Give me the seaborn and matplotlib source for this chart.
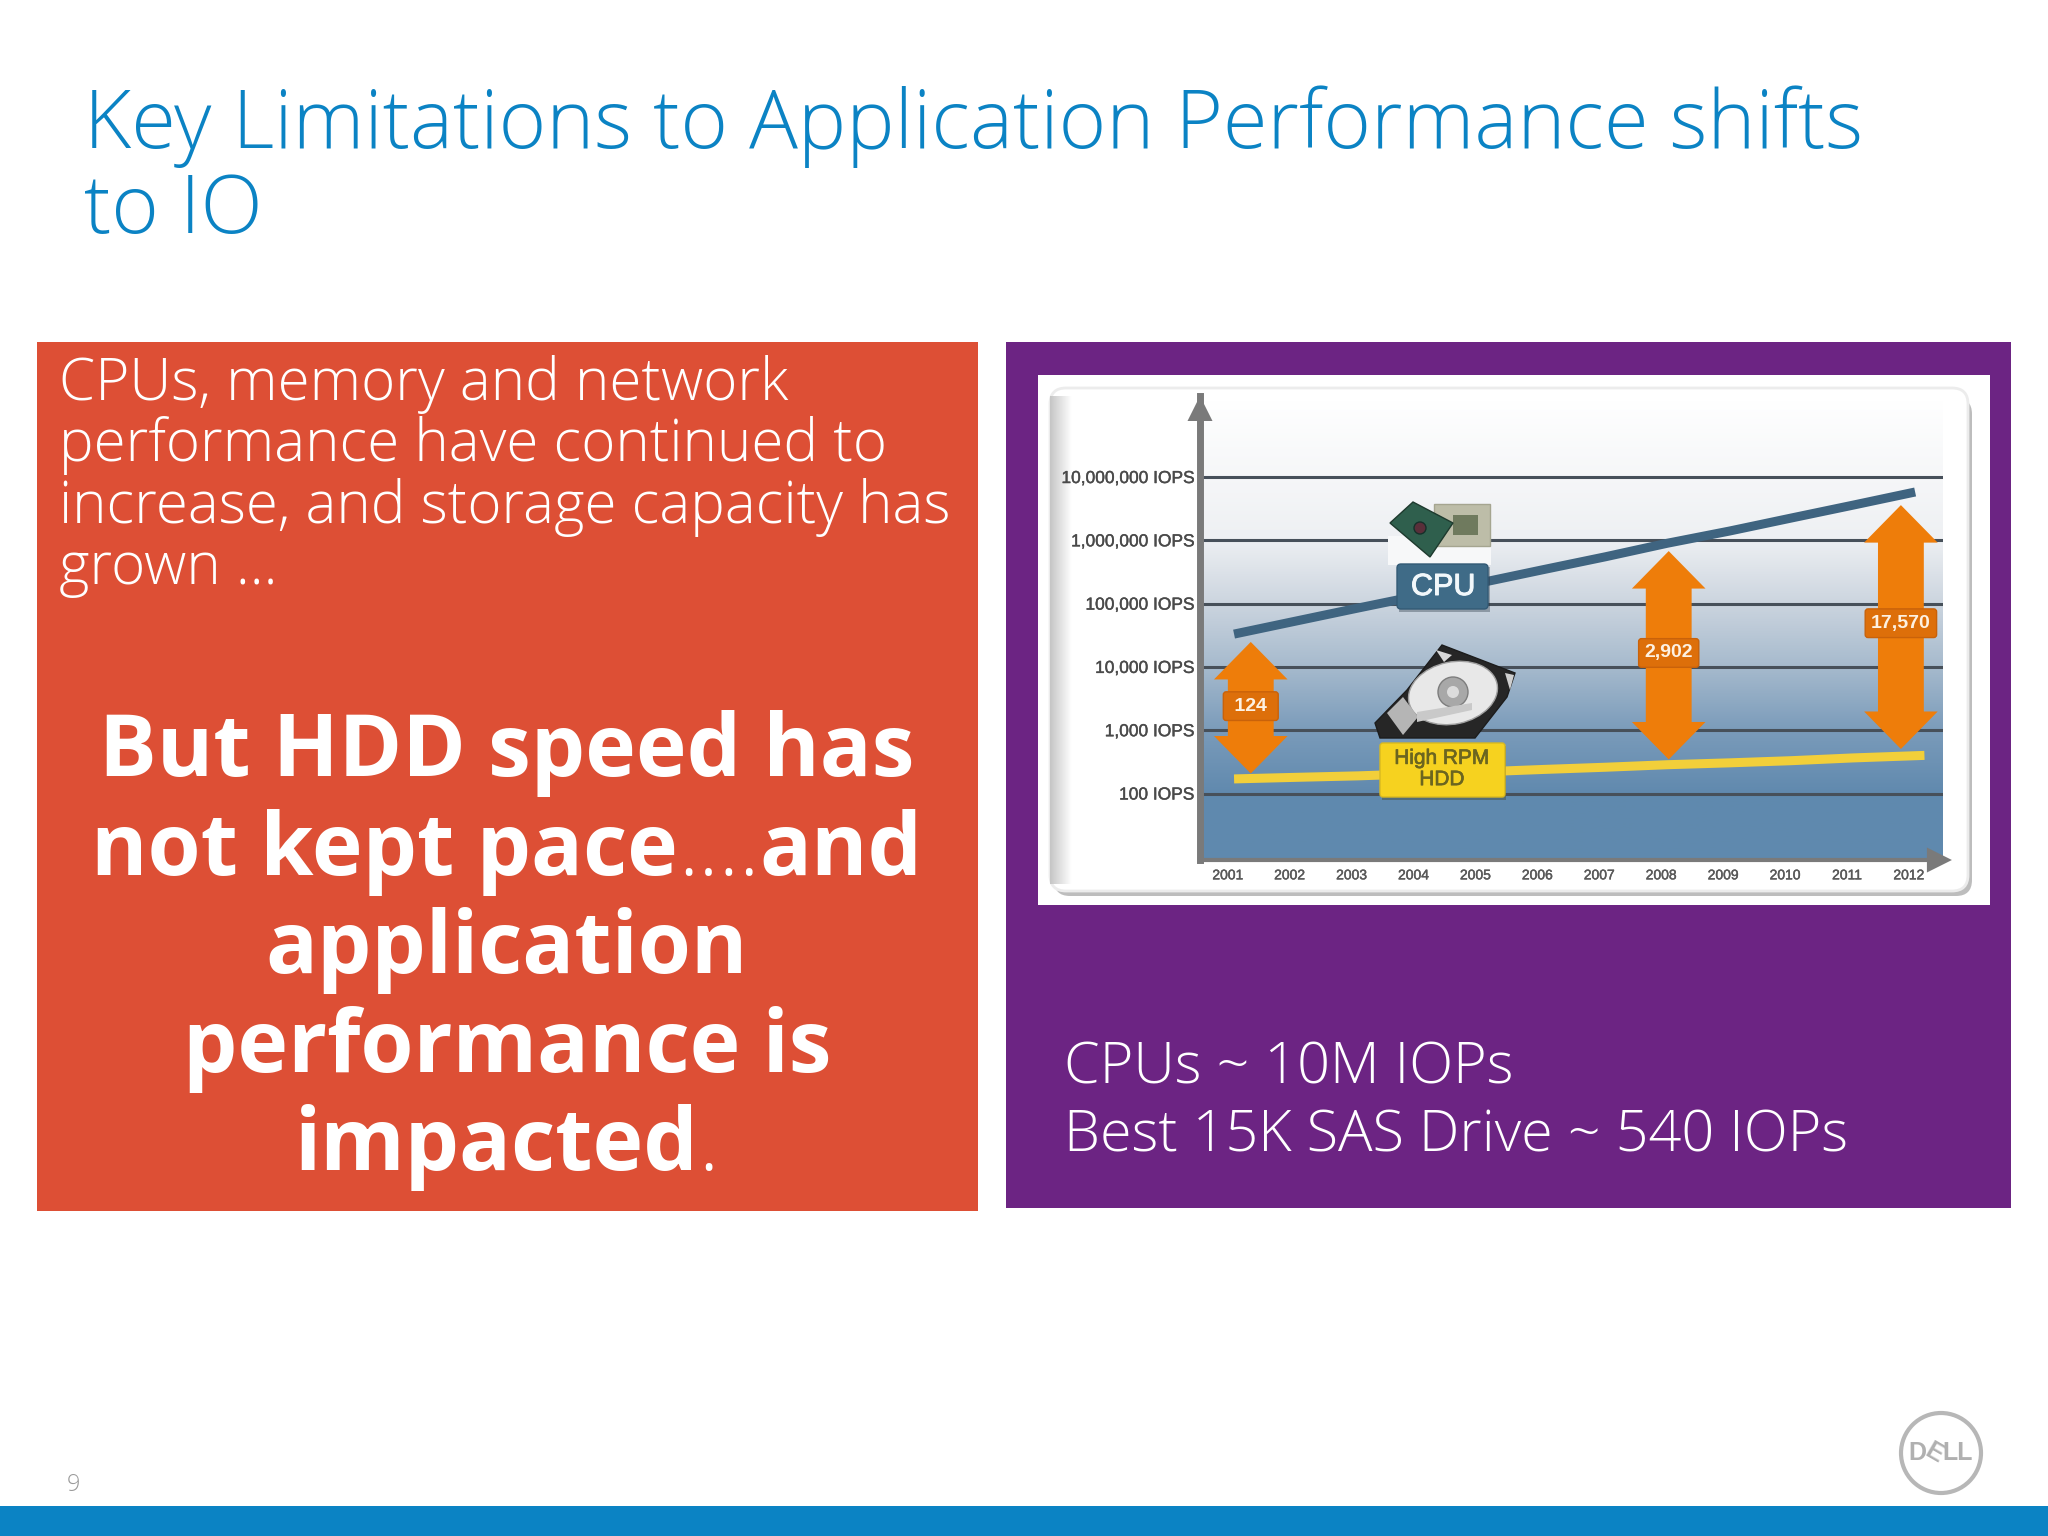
import numpy as np
import pandas as pd
import matplotlib
matplotlib.use('Agg')
import matplotlib.pyplot as plt
import matplotlib.patheffects as pe
from matplotlib.colors import LinearSegmentedColormap
from matplotlib.patches import Rectangle, FancyBboxPatch, Polygon, Ellipse, Circle
import seaborn as sns

# ── Data ──────────────────────────────────────────────────────────────────────
years = [2001, 2002, 2003, 2004, 2005, 2006, 2007, 2008, 2009, 2010, 2011, 2012]
cpu_years = [2001.1, 2002.1, 2003.1, 2004.1, 2005.1, 2006.1, 2007.1, 2008.1,
             2009.1, 2010.1, 2011.1, 2012.1]
hdd_years = [2001.1, 2002.1, 2003.1, 2004.1, 2005.1, 2006.1, 2007.1, 2008.1,
             2009.1, 2010.1, 2011.1, 2012.25]
cpu_iops = [33000, 53000, 85000, 135000, 215000, 345000, 550000, 900000,
            1400000, 2250000, 3600000, 5800000]
hdd_iops = [170, 180, 190, 205, 220, 240, 260, 285, 305, 330, 365, 400]

iops_ticks = [100, 1000, 10000, 100000, 1000000, 10000000]
iops_labels = ['100 IOPS', '1,000 IOPS', '10,000 IOPS', '100,000 IOPS',
               '1,000,000 IOPS', '10,000,000 IOPS']

gap_years = [2001.37, 2008.12, 2011.87]
gap_top = [24800, 676000, 3600000]
gap_bottom = [207, 345, 505]
gap_mid = [2400, 16600, 49000]
gap_labels = ['124', '2,902', '17,570']

title_lines = ['Key Limitations to Application Performance shifts', 'to IO']
intro_lines = ['CPUs, memory and network', 'performance have continued to',
               'increase, and storage capacity has', 'grown ...']
punch_lines = [[('But HDD speed has', 'bold')],
               [('not kept pace', 'bold'), ('....', 300), ('and', 'bold')],
               [('application', 'bold')],
               [('performance is', 'bold')],
               [('impacted', 'bold'), ('.', 300)]]
note_lines = ['CPUs ~ 10M IOPs', 'Best 15K SAS Drive ~ 540 IOPs']

BLUE = '#0b83c4'
RED = '#dd4f35'
PURPLE = '#6c2483'
ORANGE = '#ee7d0a'
W, H = 2048, 1536

sns.set_theme(style='white')
plt.rcParams['font.family'] = ['Open Sans', 'DejaVu Sans']

fig = plt.figure(figsize=(W / 100, H / 100), dpi=100, facecolor='white')
soft = [pe.withStroke(linewidth=0.3, foreground='#4a4a4a')]


def pixel_axes(zorder):
    a = fig.add_axes([0, 0, 1, 1], zorder=zorder)
    a.set_xlim(0, W)
    a.set_ylim(H, 0)
    a.axis('off')
    a.patch.set_alpha(0)
    return a


# ── Slide background ──────────────────────────────────────────────────────────
slide = pixel_axes(0)
slide.add_patch(Rectangle((0, 1506), W, 30, color=BLUE, lw=0))
slide.add_patch(Rectangle((37, 342), 941, 869, color=RED, lw=0))
slide.add_patch(Rectangle((1006, 342), 1005, 866, color=PURPLE, lw=0))
slide.add_patch(Rectangle((1038, 375), 952, 530, color='white', lw=0))
slide.add_patch(FancyBboxPatch((1054, 398), 918, 498,
                               boxstyle='round,pad=0,rounding_size=16',
                               fc='#bdbdbd', ec='none'))
slide.add_patch(FancyBboxPatch((1050, 388), 918, 503,
                               boxstyle='round,pad=0,rounding_size=16',
                               fc='white', ec='#ececec', lw=2))

edge = LinearSegmentedColormap.from_list('edge', ['#c6c6c6', '#ffffff'])
slide.imshow(np.linspace(0, 1, 32).reshape(1, -1), cmap=edge, aspect='auto',
             extent=(1050, 1072, 884, 396), zorder=2)

ramp = LinearSegmentedColormap.from_list(
    'ramp', [(0, '#ffffff'), (0.3, '#eef0f3'), (0.44, '#ccd5df'), (0.58, '#a6bacd'),
             (0.72, '#7a9bba'), (0.858, '#6089ae'), (1, '#5f8aae')])
slide.imshow(np.linspace(0, 1, 256).reshape(-1, 1), cmap=ramp, aspect='auto',
             extent=(1200, 1943, 860, 400), zorder=2)
slide.set_xlim(0, W)
slide.set_ylim(H, 0)

for i, line in enumerate(title_lines):
    slide.text(84, 148 + i * 85, line, color=BLUE, fontsize=58.5, fontweight=300)

for i, line in enumerate(intro_lines):
    slide.text(59, 400 + i * 61.4, line, color='white', fontsize=42, fontweight=300)

for i, line in enumerate(note_lines):
    slide.text(1064, 1084 + i * 68, line, color='white', fontsize=41.4, fontweight=300)

slide.text(73, 1491, '9', color='#9a9a9a', fontsize=17, ha='center', fontweight=300)

# mixed weight lines, centred on the red panel
renderer = fig.canvas.get_renderer()
for i, runs in enumerate(punch_lines):
    y = 776 + i * 98.6
    parts = [slide.text(0, y, txt, color='white', fontsize=61.8, fontweight=wt)
             for txt, wt in runs]
    widths = [p.get_window_extent(renderer).width for p in parts]
    x = 507 - sum(widths) / 2
    for p, w in zip(parts, widths):
        p.set_x(x)
        x += w

# Dell logo
slide.add_patch(Circle((1941, 1453), 40, fc='none', ec='#b7b7b7', lw=3))
logo = dict(color='#b0b0b0', fontsize=18, fontweight='bold', va='center', ha='center',
            family='Liberation Sans')
slide.text(1917, 1453, 'D', **logo)
slide.text(1934, 1453, 'E', rotation=-30, **logo)
slide.text(1958, 1453, 'LL', **logo)

# ── Chart ─────────────────────────────────────────────────────────────────────
ax = fig.add_axes([1200 / W, (H - 860) / H, 743 / W, 464 / H], zorder=1)
ax.patch.set_alpha(0)

cpu_df = pd.DataFrame({'year': cpu_years, 'iops': cpu_iops})
hdd_df = pd.DataFrame({'year': hdd_years, 'iops': hdd_iops})
ax.set_yscale('log')
ax.set_yticks(iops_ticks)
ax.set_yticklabels(iops_labels, family='Liberation Sans', fontsize=12.5, color='#4a4a4a',
                   path_effects=soft)
ax.minorticks_off()
ax.yaxis.grid(True, color='#47505a', lw=2.2)
ax.set_axisbelow(True)

for i, top, bottom, mid in zip(gap_years, gap_top, gap_bottom, gap_mid):
    style = 'simple,head_length=27,head_width=53,tail_width=33'
    for end in (top, bottom):
        ax.annotate('', xy=(i, end), xytext=(i, mid),
                    arrowprops=dict(arrowstyle=style, mutation_scale=1, fc=ORANGE,
                                    ec='none', shrinkA=0, shrinkB=0))

sns.lineplot(data=hdd_df, x='year', y='iops', ax=ax, color='#f2cf3a', lw=6.5,
             solid_capstyle='butt', errorbar=None)
sns.lineplot(data=cpu_df, x='year', y='iops', ax=ax, color='#3f6480', lw=6.5,
             solid_capstyle='butt', errorbar=None)

ax.set_xlim(2000.55, 2012.55)
ax.set_ylim(8.9, 10 ** 8.28)
ax.set_xticks(years)
ax.set_xticklabels(years, family='Liberation Sans', fontsize=10, color='#5a5a5a',
                   path_effects=soft)
ax.set_xlabel('')
ax.set_ylabel('')
ax.tick_params(axis='x', length=0, pad=6)
ax.tick_params(axis='y', length=0, pad=4)
sns.despine(ax=ax)
ax.spines['left'].set_color('#7a7a7a')
ax.spines['left'].set_linewidth(5)
ax.spines['bottom'].set_color('#7a7a7a')
ax.spines['bottom'].set_linewidth(3)

for x0, x1, y0, y1 in [(0, 0, 0.9, 1.0), (0.98, 1.012, 0, 0)]:
    ax.annotate('', xy=(x1, y1), xytext=(x0, y0), xycoords='axes fraction',
                textcoords='axes fraction', annotation_clip=False,
                arrowprops=dict(arrowstyle='simple,head_length=18,head_width=18,tail_width=3',
                                mutation_scale=1, fc='#7a7a7a', ec='none',
                                shrinkA=0, shrinkB=0))

for i, mid, lab in zip(gap_years, gap_mid, gap_labels):
    ax.text(i, mid, lab.center(5, '\u00a0'), ha='center', va='center', color='#fdf1e2',
            fontsize=14, fontweight='bold', family='Liberation Sans', zorder=6,
            bbox=dict(boxstyle='round,pad=0.3,rounding_size=0.15', fc='#dd6f0a', ec='#c9620a', lw=1))

# ── Icons and series name plates ──────────────────────────────────────────────
top = pixel_axes(2)
# chip
top.add_patch(Rectangle((1388, 536), 103, 29, fc='#f7f8f9', ec='none'))
top.add_patch(Rectangle((1434, 504), 56, 42, fc='#bdbda8', ec='#a5a590', lw=1))
top.add_patch(Rectangle((1453, 515), 25, 20, fc='#6f7a5e', ec='none'))
top.add_patch(Polygon([(1413, 502), (1453, 523), (1430, 557), (1390, 523)], fc='#2f5f4d', ec='#1e3a2e'))
top.add_patch(Circle((1420, 528), 6, fc='#5a2f3a', ec='#16302a'))
top.add_patch(Rectangle((1399, 567), 91, 45, fc='#20303c', alpha=0.35, ec='none'))
top.add_patch(FancyBboxPatch((1397, 564), 91, 45, boxstyle='round,pad=0,rounding_size=4',
                             fc='#3f6b87', ec='#335a75', lw=1))
top.text(1443, 587, 'CPU', color='#f2f8fb', fontsize=22, ha='center', va='center',
         family='Liberation Sans', path_effects=[pe.withStroke(linewidth=0.7, foreground='#f2f8fb')])

# drive
top.add_patch(Polygon([(1442, 645), (1515, 673), (1507, 697), (1475, 738), (1380, 738),
                       (1375, 723), (1407, 690)], fc='#262626', ec='#1c1c1c'))
top.add_patch(Ellipse((1453, 693), 90, 62, angle=-12, fc='#e8e8e8', ec='#a0a0a0', lw=1))
top.add_patch(Circle((1453, 692), 15, fc='#a8a8a8', ec='#7d7d7d'))
top.add_patch(Circle((1453, 692), 6, fc='#dcdcdc', ec='none'))
top.add_patch(Polygon([(1387, 713), (1403, 697), (1418, 717), (1403, 735)], fc='#b5b5b5', ec='none'))
top.add_patch(Polygon([(1417, 712), (1472, 703), (1472, 710), (1417, 722)], fc='#c9c9c9', ec='none'))
top.add_patch(Polygon([(1436, 650), (1452, 655), (1444, 662)], fc='#d8d8d8', ec='none'))
top.add_patch(Polygon([(1505, 673), (1514, 675), (1510, 690)], fc='#cfcfcf', ec='none'))

top.add_patch(Rectangle((1382, 746), 124, 54, fc='#403a10', alpha=0.35, ec='none'))
top.add_patch(FancyBboxPatch((1380, 743), 125, 54, boxstyle='round,pad=0,rounding_size=3',
                             fc='#f6d21f', ec='#d9b920', lw=1))
top.text(1442, 769, 'High RPM\nHDD', color='#6b6520', fontsize=15, ha='center', va='center',
         family='Liberation Sans', linespacing=1.15,
         path_effects=[pe.withStroke(linewidth=0.5, foreground='#6b6520')])

fig.savefig('out.png', dpi=100)
